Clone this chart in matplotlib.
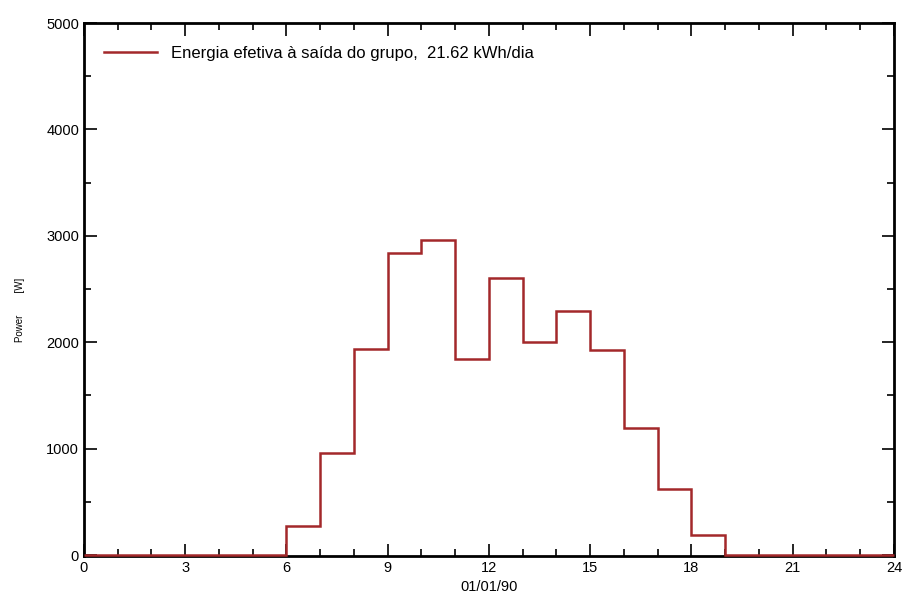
import matplotlib
matplotlib.use('Agg')
import matplotlib.pyplot as plt
from matplotlib.ticker import MultipleLocator

plt.rcParams['font.family'] = ['Liberation Sans Narrow', 'Liberation Sans', 'DejaVu Sans']

# hourly power at the array output [W], one value per hour 0..23
hours = list(range(25))
power = [0, 0, 0, 0, 0, 0, 270, 960, 1940, 2840, 2960, 1840,
         2600, 2000, 2290, 1930, 1190, 620, 190, 0, 0, 0, 0, 0]
legend_label = 'Energia efetiva à saída do grupo,  21.62 kWh/dia'
xlabel = '01/01/90'

fig = plt.figure(figsize=(9.02, 6.01), dpi=100)
ax = fig.add_axes([0.0931, 0.0749, 0.898, 0.8868])

ax.stairs(power, hours, color='#a3282a', lw=1.8, label=legend_label,
          baseline=None, zorder=3, clip_on=False)

ax.set_xlim(0, 24)
ax.set_ylim(-8, 5000)
ax.xaxis.set_major_locator(MultipleLocator(3))
ax.xaxis.set_minor_locator(MultipleLocator(1))
ax.yaxis.set_major_locator(MultipleLocator(1000))
ax.yaxis.set_minor_locator(MultipleLocator(500))
ax.tick_params(which='both', direction='in', top=True, right=True, labelsize=10.5, width=1.2)
ax.tick_params(which='major', length=9)
ax.tick_params(which='minor', length=5)
for s in ax.spines.values():
    s.set_linewidth(2)

ax.set_xlabel(xlabel, fontsize=10.5, labelpad=4)
fig.text(0.022, 0.485, 'Power        [W]', rotation=90, fontsize=7, ha='center', va='center')

ax.legend(loc='upper left', frameon=False, fontsize=12, handlelength=3.2,
          handletextpad=0.8, bbox_to_anchor=(0.006, 0.985))

fig.savefig('out.png', dpi=100)
